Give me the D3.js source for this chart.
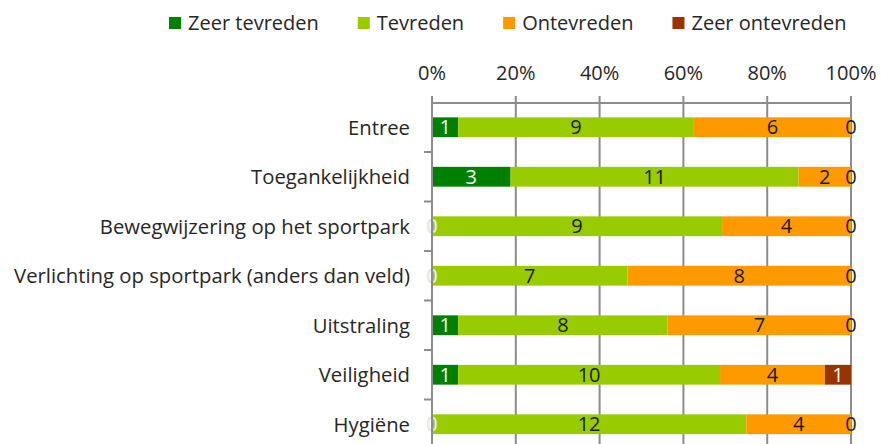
<!DOCTYPE html>
<html><head><meta charset="utf-8">
<script src="https://cdn.jsdelivr.net/npm/d3@7"></script>
<style>html,body{margin:0;padding:0;background:#fff;}svg{display:block;font-family:"Open Sans","Noto Sans",sans-serif;}</style>
</head><body>
<svg id="c" width="881" height="444"></svg>
<script>
const categories = ["Entree","Toegankelijkheid","Bewegwijzering op het sportpark","Verlichting op sportpark (anders dan veld)","Uitstraling","Veiligheid","Hygiëne"];
const seriesNames = ["Zeer tevreden","Tevreden","Ontevreden","Zeer ontevreden"];
const zeerTevreden   = [1,3,0,0,1,1,0];
const tevreden       = [9,11,9,7,8,10,12];
const ontevreden     = [6,2,4,8,7,4,4];
const zeerOntevreden = [0,0,0,0,0,1,0];
const tickLabels = ["0%","20%","40%","60%","80%","100%"];
const colors = ["#008000","#99CC00","#FF9900","#993300"];
const labelColors = ["#ffffff","#1a1a1a","#1a1a1a","#ffffff"];

const seriesValues = [zeerTevreden, tevreden, ontevreden, zeerOntevreden];
const svg = d3.select("#c");
const textColor = "#262626";
const gridColor = "#8c8c8c";
const fs = 20;

const x = d3.scaleLinear().domain([0,1]).range([432,851]);
const y = d3.scaleBand().domain(categories).range([102.5,449]).paddingInner(0.6).paddingOuter(0.3);

const rows = categories.map((c,i)=>{
  const obj = {cat:c};
  seriesNames.forEach((s,j)=>obj[s]=seriesValues[j][i]);
  return obj;
});
const stack = d3.stack().keys(seriesNames).offset(d3.stackOffsetExpand)(rows);

// gridlines
const ticks = [0,0.2,0.4,0.6,0.8,1];
svg.append("g").selectAll("line").data(ticks).join("line")
  .attr("x1",d=>x(d)).attr("x2",d=>x(d)).attr("y1",96).attr("y2",449)
  .attr("stroke",gridColor).attr("stroke-width",2);

// top axis line
svg.append("line").attr("x1",x(0)).attr("x2",x(1)).attr("y1",103).attr("y2",103)
  .attr("stroke",gridColor).attr("stroke-width",2);

// tick labels
svg.append("g").selectAll("text").data(ticks).join("text")
  .attr("x",d=>x(d)).attr("y",80).attr("text-anchor","middle")
  .attr("font-size",fs).attr("fill",textColor)
  .text((d,i)=>tickLabels[i]);

// left category ticks
const step = y.step();
const bounds = d3.range(1,categories.length).map(i=>y.range()[0]+i*step);
svg.append("g").selectAll("line").data(bounds).join("line")
  .attr("x1",424).attr("x2",432).attr("y1",d=>d).attr("y2",d=>d)
  .attr("stroke",gridColor).attr("stroke-width",2);

// bars
const g = svg.append("g");
stack.forEach((layer,j)=>{
  g.append("g").selectAll("rect").data(layer).join("rect")
    .attr("x",d=>x(d[0])).attr("width",d=>x(d[1])-x(d[0]))
    .attr("y",d=>y(d.data.cat)).attr("height",y.bandwidth())
    .attr("fill",colors[j]);
});

// left axis line (over bars)
svg.append("line").attr("x1",432).attr("x2",432).attr("y1",96).attr("y2",449)
  .attr("stroke",gridColor).attr("stroke-width",2);

// labels
stack.forEach((layer,j)=>{
  g.append("g").selectAll("text").data(layer).join("text")
    .attr("x",d=>(x(d[0])+x(d[1]))/2)
    .attr("y",d=>y(d.data.cat)+y.bandwidth()/2)
    .attr("dy","0.36em").attr("text-anchor","middle")
    .attr("font-size",fs)
    .attr("fill",d=>{const v=d.data[seriesNames[j]]; return (j===3 && v===0)?"#1a1a1a":labelColors[j];})
    .attr("stroke",d=>{const v=d.data[seriesNames[j]]; return (j===0 && v===0)?"#cccccc":"none";})
    .attr("stroke-width",0.5)
    .text(d=>d.data[seriesNames[j]]);
});

// category labels
svg.append("g").selectAll("text").data(categories).join("text")
  .attr("x",410).attr("y",d=>y(d)+y.bandwidth()/2).attr("dy","0.36em")
  .attr("text-anchor","end").attr("font-size",20.3).attr("fill",textColor)
  .text(d=>d);

// legend (sequential layout)
const lg = svg.append("g");
let lx = 169;
seriesNames.forEach((s,j)=>{
  lg.append("rect").attr("x",lx).attr("y",17).attr("width",12).attr("height",12).attr("fill",colors[j]);
  const t = lg.append("text").attr("x",lx+19).attr("y",30).attr("font-size",fs).attr("fill",textColor).text(s);
  lx += 19 + t.node().getComputedTextLength() + 39;
});
</script>
</body></html>
